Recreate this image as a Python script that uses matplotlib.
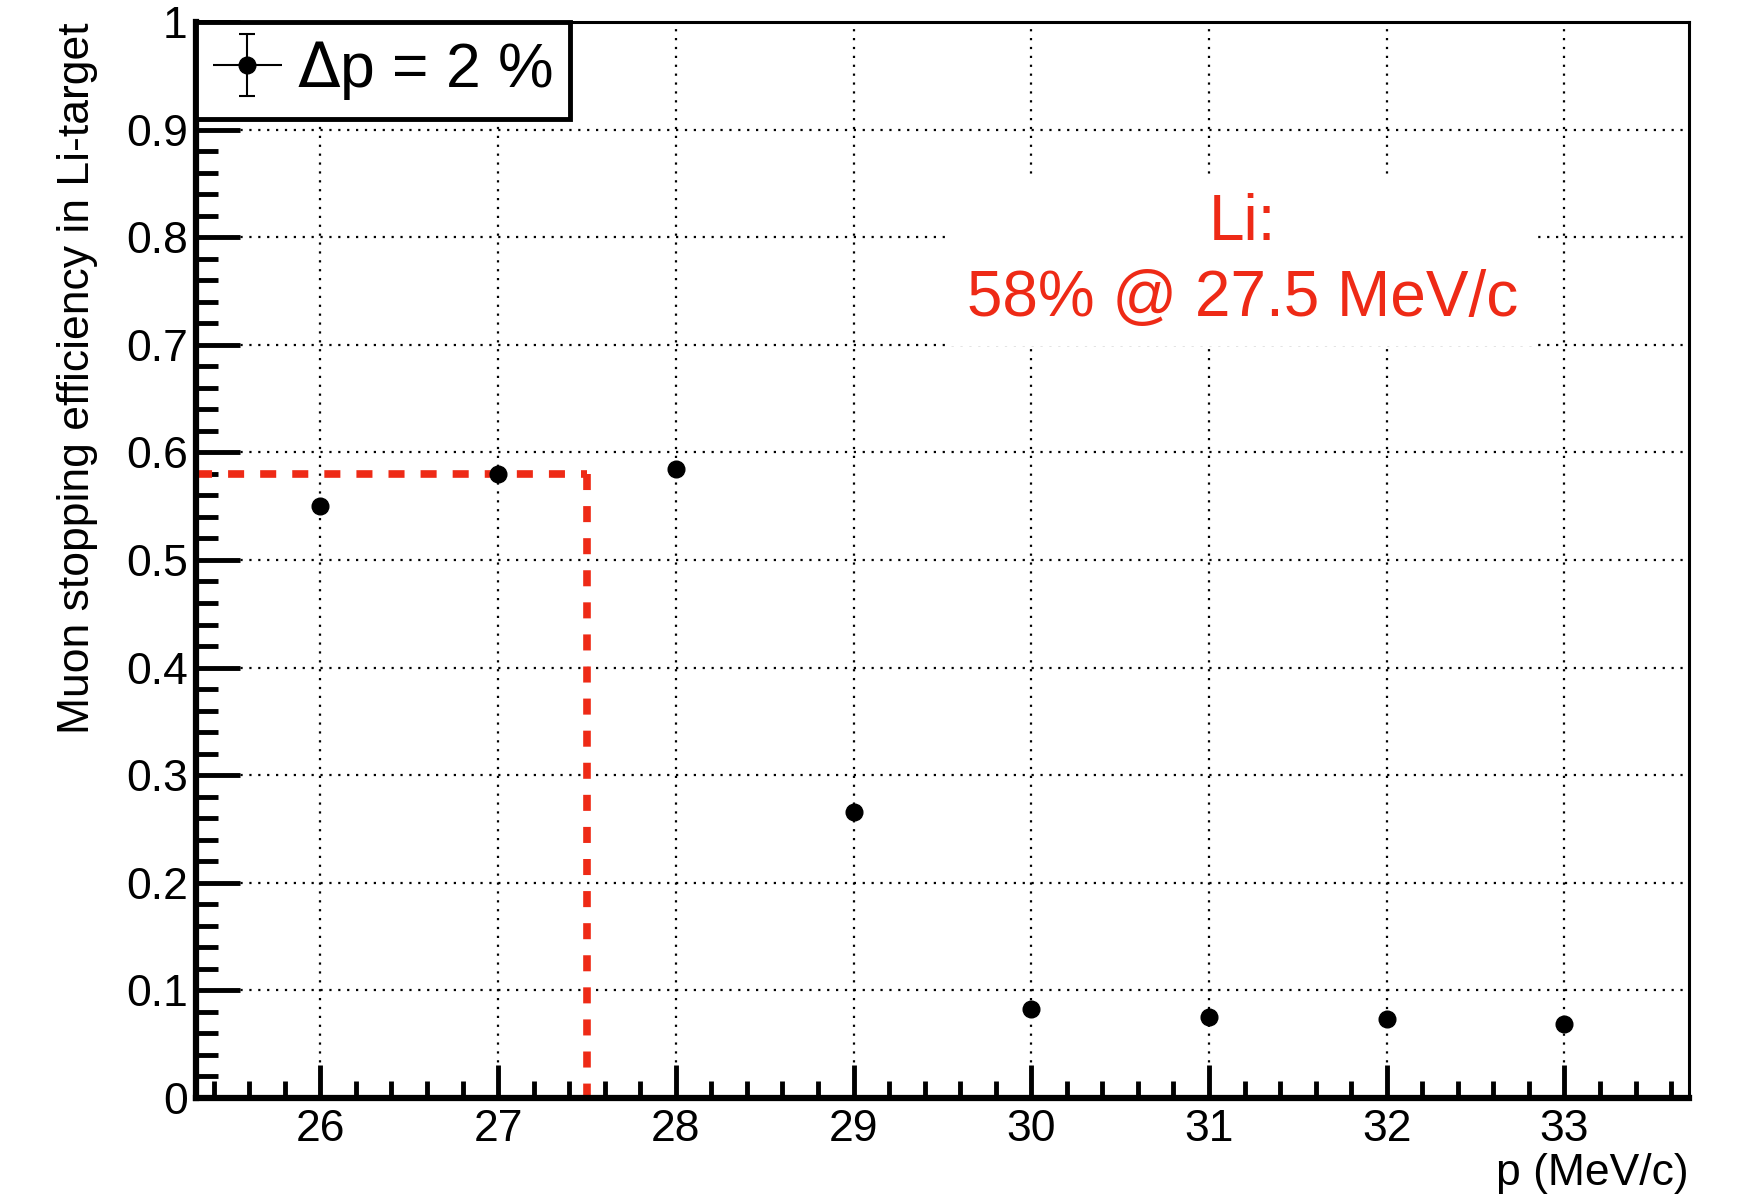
import matplotlib
matplotlib.use("Agg")
import matplotlib.pyplot as plt
from matplotlib.ticker import MultipleLocator
from matplotlib.legend_handler import HandlerErrorbar

plt.rcParams['font.family'] = ['Liberation Sans', 'DejaVu Sans']

# muon momentum (MeV/c) and stopping efficiency in Li target
p = [26, 27, 28, 29, 30, 31, 32, 33]
eff = [0.550, 0.580, 0.585, 0.266, 0.083, 0.075, 0.073, 0.069]
p_mark = 27.5
eff_mark = 0.58

red = '#ee2a16'


class CapsOnlyY(HandlerErrorbar):
    # root style legend: caps only on the vertical bar
    def create_artists(self, *args, **kwargs):
        arts = super().create_artists(*args, **kwargs)
        return [a for a in arts if not (hasattr(a, 'get_marker') and a.get_marker() == '|')]


fig = plt.figure(figsize=(17.42, 12.01), dpi=100)
ax = fig.add_axes([0.1125, 0.0858, 0.857, 0.8959])

ax.set_xlim(25.3, 33.7)
ax.set_ylim(0, 1)

ax.grid(True, which='major', color='black', linestyle=(0, (1, 3)), linewidth=1.6)
ax.set_axisbelow(True)

eb = ax.errorbar(p, eff, xerr=0, yerr=0, fmt='o', color='black', markersize=12,
                 elinewidth=1.5, capsize=6, capthick=1.5, label=r'$\Delta$p = 2 %', zorder=3)

# marker lines at 27.5 MeV/c
ax.plot([25.3, p_mark], [eff_mark, eff_mark], color=red, linestyle=(0, (2.1, 2.1)),
        linewidth=5.5, zorder=2, clip_on=False)
ax.plot([p_mark, p_mark], [eff_mark, 0], color=red, linestyle=(0, (2.1, 2.1)),
        linewidth=5.5, zorder=2)

ax.text(0.7009, 0.778, 'Li:\n58% @ 27.5 MeV/c', transform=ax.transAxes,
        ha='center', va='center', color=red, fontsize=46, linespacing=1.35,
        bbox=dict(facecolor='white', edgecolor='none', pad=12), zorder=4)

ax.xaxis.set_major_locator(MultipleLocator(1))
ax.xaxis.set_minor_locator(MultipleLocator(0.2))
ax.yaxis.set_minor_locator(MultipleLocator(0.02))
ax.set_yticks([0, 0.1, 0.2, 0.3, 0.4, 0.5, 0.6, 0.7, 0.8, 0.9, 1.0])
ax.set_yticklabels(['0', '0.1', '0.2', '0.3', '0.4', '0.5', '0.6', '0.7', '0.8', '0.9', '1'])

ax.tick_params(axis='x', which='major', direction='in', length=24, width=3.5,
               labelsize=32, pad=8, top=False)
ax.tick_params(axis='x', which='minor', direction='in', length=12, width=3.5, top=False)
ax.tick_params(axis='y', which='major', direction='in', length=32, width=3.5,
               labelsize=32, pad=6, right=False)
ax.tick_params(axis='y', which='minor', direction='in', length=16, width=3.5, right=False)

for s in ['left', 'bottom']:
    ax.spines[s].set_linewidth(4.5)
for s in ['top', 'right']:
    ax.spines[s].set_linewidth(2.2)

ax.set_ylabel('Muon stopping efficiency in Li-target', fontsize=32, loc='top', labelpad=20)
ax.set_xlabel('p (MeV/c)', fontsize=32, loc='right', labelpad=2)

leg = ax.legend(loc='upper left', borderaxespad=0, fontsize=45, frameon=True,
                fancybox=False, framealpha=1, edgecolor='black', handlelength=1.1,
                handletextpad=0.25, borderpad=0.27,
                handler_map={type(eb): CapsOnlyY(xerr_size=0.55, yerr_size=0.5)})
leg.get_frame().set_linewidth(3.5)
leg.set_zorder(5)

fig.savefig('out.png', dpi=100)
